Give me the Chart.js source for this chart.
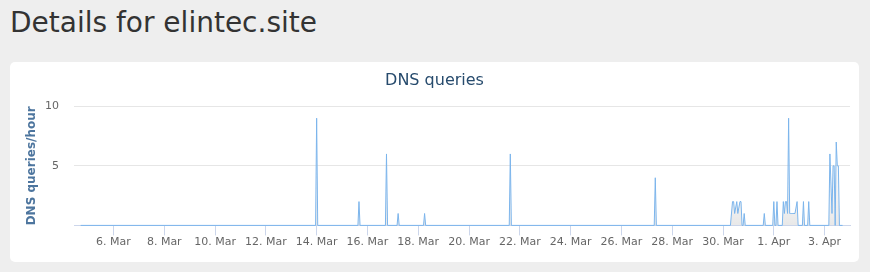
<!DOCTYPE html>
<html>
<head>
<meta charset="utf-8">
<script src="https://cdn.jsdelivr.net/npm/chart.js@4"></script>
<style>
    body { margin: 0; background: #eeeeee; width: 870px; height: 272px; overflow: hidden; font-family: "DejaVu Sans", sans-serif; }
    h1 { position: absolute; left: 10px; top: 9px; margin: 0; font-size: 28px; line-height: 28px; font-weight: normal; color: #333333; }
    .card { position: absolute; left: 10px; top: 62px; width: 849px; height: 200px; background: #ffffff; border-radius: 5px; }
    canvas { display: block; }
</style>
</head>
<body>
<h1>Details for elintec.site</h1>
<div class="card"><canvas id="myChart" width="849" height="200"></canvas></div>
<script>
// hours counted from 4. Mar 00:00
var hours = [17,
    239, 240, 241,
    279, 280, 281,
    305, 306, 307,
    316, 317, 318,
    341, 342, 343,
    422, 423, 424,
    559, 560, 561,
    631, 633, 634, 635, 637, 638, 640, 641, 642, 643, 644, 645,
    662, 663, 664,
    671, 672, 673, 674, 675, 676, 680, 681, 682, 683, 684, 685, 686, 687, 688, 689, 690, 691, 692, 694, 695,
    699, 700, 701, 704, 705, 706,
    724, 725, 727, 728, 729, 730, 731, 732, 733, 734, 737];
var queries = [0,
    0, 9, 0,
    0, 2, 0,
    0, 6, 0,
    0, 1, 0,
    0, 1, 0,
    0, 6, 0,
    0, 4, 0,
    0, 2, 2, 1, 2, 1, 2, 2, 0, 0, 1, 0,
    0, 1, 0,
    0, 2, 0, 0, 2, 0, 0, 2, 1, 2, 2, 1, 9, 1, 1, 1, 1, 1, 1, 2, 0,
    0, 2, 0, 0, 2, 0,
    0, 6, 1, 5, 5, 0, 7, 5, 5, 0, 0];

var tickHours = [48, 96, 144, 192, 240, 288, 336, 384, 432, 480, 528, 576, 624, 672, 720];
var tickLabels = ['6. Mar', '8. Mar', '10. Mar', '12. Mar', '14. Mar', '16. Mar', '18. Mar', '20. Mar',
    '22. Mar', '24. Mar', '26. Mar', '28. Mar', '30. Mar', '1. Apr', '3. Apr'];

var font = '"DejaVu Sans", sans-serif';

function main() {
    var ctx = document.getElementById('myChart').getContext('2d');
    let points = [];
    for (let i = 0; i < hours.length; i++) {
        points.push({x: hours[i], y: queries[i]});
    }

    var data = {
        datasets: [{
            label: 'DNS queries',
            data: points,
            borderColor: '#7cb5ec',
            borderWidth: 1,
            pointRadius: 0,
            tension: 0,
            fill: 'origin',
            clip: {left: 0, top: 5, right: 0, bottom: 2},
            backgroundColor: function (c) {
                let area = c.chart.chartArea;
                if (!area) return 'rgba(0,0,0,0)';
                let g = c.chart.ctx.createLinearGradient(0, area.top, 0, area.bottom);
                g.addColorStop(0, 'rgba(255,255,255,0)');
                g.addColorStop(1, 'rgba(190,190,190,0.35)');
                return g;
            }
        }]
    };

    var config = {
        type: 'line',
        data: data,
        options: {
            responsive: false,
            animation: false,
            layout: {padding: {left: 9, right: 9, top: 0, bottom: 0}},
            plugins: {
                legend: {display: false},
                tooltip: {enabled: false},
                title: {
                    display: true,
                    text: 'DNS queries',
                    color: '#274b6d',
                    font: {family: font, size: 16, weight: 'normal'},
                    padding: {top: 9, bottom: 16.1}
                }
            },
            scales: {
                x: {
                    type: 'linear',
                    min: 10.7,
                    max: 744,
                    afterBuildTicks: function (s) {
                        s.ticks = tickHours.map(v => ({value: v}));
                    },
                    afterFit: function (s) { s.height = 36.6; },
                    grid: {drawOnChartArea: false, drawTicks: true, tickLength: 10, color: '#ccd6eb'},
                    border: {display: true, color: '#ccd6eb'},
                    ticks: {
                        autoSkip: false,
                        maxRotation: 0,
                        padding: 0,
                        color: '#666666',
                        font: {family: font, size: 11},
                        callback: (v, i) => tickLabels[i]
                    }
                },
                y: {
                    min: 0,
                    max: 10,
                    afterFit: function (s) { s.width = 55; },
                    grid: {color: '#e6e6e6', drawTicks: false},
                    border: {display: false},
                    ticks: {
                        stepSize: 5,
                        padding: 15,
                        color: '#666666',
                        font: {family: font, size: 11},
                        callback: v => v === 0 ? '' : v
                    },
                    title: {
                        display: true,
                        text: 'DNS queries/hour',
                        color: '#4d759e',
                        font: {family: font, size: 12, weight: 'bold'},
                        padding: {top: 6, bottom: 0}
                    }
                }
            }
        }
    };

    window.myChart = new Chart(ctx, config);
}

main();
</script>
</body>
</html>
